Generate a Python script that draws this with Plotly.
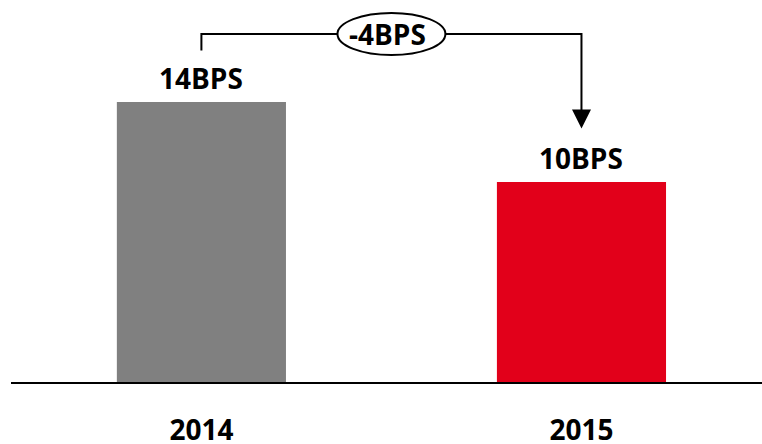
import plotly.graph_objects as go

# Basis-point values per year
years = ["2014", "2015"]
bps = [14, 10]
bar_colors = ["#808080", "#E2001A"]

FONT = "Open Sans"
x_pos = list(range(len(years)))
change = bps[1] - bps[0]

fig = go.Figure(
    go.Bar(
        x=x_pos,
        y=bps,
        width=0.445,
        marker=dict(color=bar_colors, line=dict(width=0)),
        hoverinfo="skip",
    )
)

# Value labels above each bar
for xi, v in zip(x_pos, bps):
    fig.add_annotation(
        x=xi, y=v + 1.2, xref="x", yref="y",
        text=f"<b>{v}BPS</b>", showarrow=False,
        font=dict(family=FONT, size=28, color="#000000"),
        xanchor="center", yanchor="middle",
    )

# Bracket connecting the two bars, with the change marked in an ellipse
line_y = 17.4
start_y = bps[0] + 2.575
tip_y = bps[1] + 2.675
fig.add_shape(
    type="path",
    path=f"M {x_pos[0]} {start_y} L {x_pos[0]} {line_y} L {x_pos[1]} {line_y} L {x_pos[1]} {tip_y + 0.5}",
    xref="x", yref="y",
    line=dict(color="#000000", width=2),
)
fig.add_annotation(
    x=x_pos[1], y=tip_y, ax=x_pos[1], ay=tip_y + 0.9,
    xref="x", yref="y", axref="x", ayref="y",
    showarrow=True, arrowhead=2, arrowsize=1.9, arrowwidth=2,
    arrowcolor="#000000", text="",
)
mid = (x_pos[0] + x_pos[1]) / 2
fig.add_shape(
    type="circle", xref="x", yref="y",
    x0=mid - 0.142, x1=mid + 0.142, y0=line_y - 1.05, y1=line_y + 1.05,
    fillcolor="#FFFFFF", line=dict(color="#000000", width=2),
)
fig.add_annotation(
    x=mid - 0.01, y=line_y, xref="x", yref="y",
    text=f"<b>{change}BPS</b>", showarrow=False,
    font=dict(family=FONT, size=28, color="#000000"),
    xanchor="center", yanchor="middle",
)

fig.update_layout(
    width=762, height=444,
    margin=dict(l=11, r=0, t=0, b=62, autoexpand=False),
    paper_bgcolor="#FFFFFF", plot_bgcolor="#FFFFFF",
    showlegend=False,
    xaxis=dict(
        range=[-0.501, 1.475],
        tickvals=x_pos, ticktext=[f"<b>{y}</b>" for y in years],
        tickfont=dict(family=FONT, size=28, color="#000000"),
        showgrid=False, zeroline=False, automargin=False,
        showline=True, linecolor="#000000", linewidth=2,
        ticks="", ticklabelstandoff=22,
    ),
    yaxis=dict(range=[0, 19.1], visible=False, showgrid=False, zeroline=False),
)

fig.write_html("out.html")
